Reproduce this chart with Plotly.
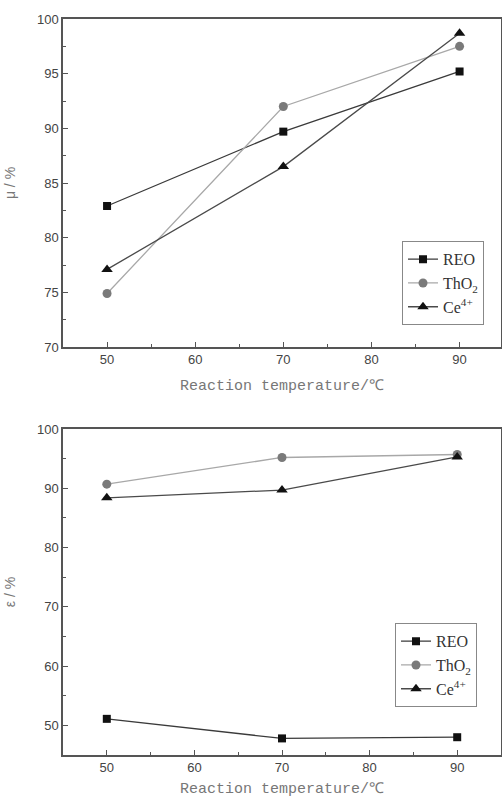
import plotly.graph_objects as go

temps = [50, 70, 90]
mu_reo = [82.9, 89.7, 95.2]
mu_tho2 = [74.9, 92.0, 97.5]
mu_ce = [77.1, 86.5, 98.7]
eps_reo = [51.1, 47.8, 48.0]
eps_tho2 = [90.7, 95.2, 95.7]
eps_ce = [88.4, 89.7, 95.3]
names = ["REO", "ThO<sub>2</sub>", "Ce<sup>4+</sup>"]

styles = [
    dict(line=dict(color="#3a3a3a", width=1.3), marker=dict(symbol="square", size=8, color="#111111")),
    dict(line=dict(color="#a8a8a8", width=1.3), marker=dict(symbol="circle", size=9, color="#7a7a7a")),
    dict(line=dict(color="#4a4a4a", width=1.3), marker=dict(symbol="triangle-up", size=10, color="#111111")),
]

fig = go.Figure()
for ys, st, nm in zip([mu_reo, mu_tho2, mu_ce], styles, names):
    fig.add_trace(go.Scatter(x=temps, y=ys, mode="lines+markers", name=nm,
                             xaxis="x", yaxis="y", legend="legend", **st))
for ys, st, nm in zip([eps_reo, eps_tho2, eps_ce], styles, names):
    fig.add_trace(go.Scatter(x=temps, y=ys, mode="lines+markers", name=nm,
                             xaxis="x2", yaxis="y2", legend="legend2", **st))

tickfont = dict(family="Liberation Sans, Arial, sans-serif", size=13, color="#444444")
titlefont = dict(family="Liberation Mono, monospace", size=15, color="#777777")
ytitlefont = dict(family="Liberation Sans, Arial, sans-serif", size=14, color="#777777")
axcommon = dict(showline=True, linecolor="#555555", linewidth=1.5, mirror=True,
                ticks="inside", ticklen=5, tickcolor="#555555", tickwidth=1,
                showgrid=False, zeroline=False, tickfont=tickfont, automargin=False)

legcommon = dict(font=dict(family="Liberation Serif, Times New Roman, serif", size=16, color="#333333"),
                 bordercolor="#888888", borderwidth=1, bgcolor="white",
                 xanchor="left", yanchor="top", tracegroupgap=0, itemwidth=30)

fig.update_layout(
    width=502, height=798,
    margin=dict(l=63, r=1, t=19, b=43, autoexpand=False),
    paper_bgcolor="white", plot_bgcolor="white",
    showlegend=True,
    xaxis=dict(domain=[0, 1], anchor="y", range=[45, 94.7], tick0=50, dtick=10,
               minor=dict(dtick=5, ticks="inside", ticklen=3, tickcolor="#555555"),
               title=dict(text="Reaction temperature/℃", font=titlefont, standoff=13),
               **axcommon),
    yaxis=dict(domain=[0.5543, 1], anchor="x", range=[70, 100], dtick=5,
               minor=dict(dtick=2.5, ticks="inside", ticklen=3, tickcolor="#555555"),
               title=dict(text="μ / %", font=ytitlefont, standoff=18),
               **axcommon),
    xaxis2=dict(domain=[0, 1], anchor="y2", range=[45, 95], tick0=50, dtick=10,
                minor=dict(dtick=5, ticks="inside", ticklen=3, tickcolor="#555555"),
                title=dict(text="Reaction temperature/℃", font=titlefont, standoff=14),
                **axcommon),
    yaxis2=dict(domain=[0, 0.4429], anchor="x2", range=[45, 100], dtick=10, tick0=50,
                minor=dict(dtick=5, ticks="inside", ticklen=3, tickcolor="#555555"),
                title=dict(text="ε / %", font=ytitlefont, standoff=18),
                **axcommon),
    legend=dict(x=0.774, y=0.698, **legcommon),
    legend2=dict(x=0.758, y=0.179, **legcommon),
)

post = (
    "var d=document.documentElement,b=document.body;"
    "[d,b].forEach(function(e){e.style.margin='0';e.style.padding='0';"
    "e.style.overflow='hidden';});"
)

fig.write_html("out.html", post_script=post, config={"displayModeBar": False})
